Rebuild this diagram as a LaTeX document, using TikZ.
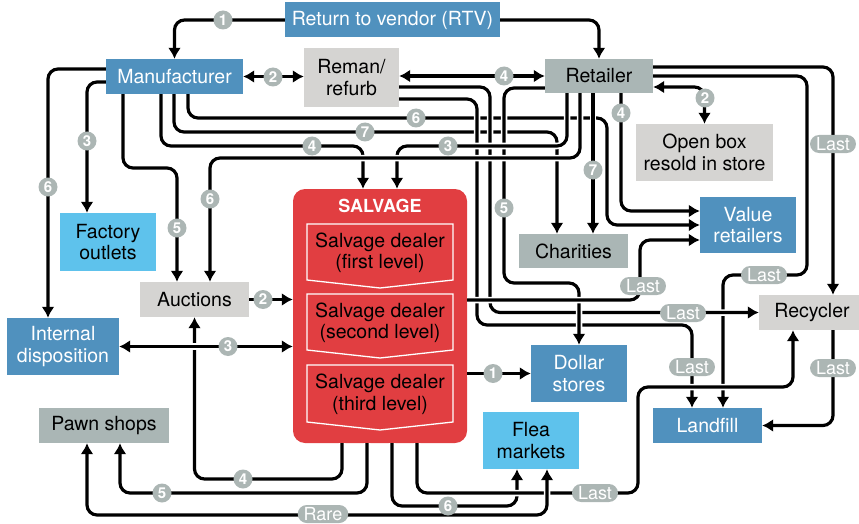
\documentclass[tikz,border=0pt]{standalone}
\usepackage{fontspec}
\setmainfont{TeX Gyre Heros}
\usetikzlibrary{arrows.meta}
\definecolor{boxblue}{RGB}{80,145,190}
\definecolor{boxsky}{RGB}{94,194,236}
\definecolor{boxsage}{RGB}{170,182,181}
\definecolor{boxgrey}{RGB}{213,212,210}
\definecolor{salvred}{RGB}{225,62,65}
\definecolor{tagfill}{RGB}{172,182,180}

\begin{document}
\begin{tikzpicture}[x=1pt,y=-1pt,
  every node/.style={font=\fontsize{19.5}{21.5}\selectfont},
  bluebox/.style={fill=boxblue,text=white,align=center},
  skybox/.style={fill=boxsky,align=center},
  sagebox/.style={fill=boxsage,align=center},
  greybox/.style={fill=boxgrey,align=center},
  flow/.style={line width=3.2pt,rounded corners=10pt,>={Latex[length=11pt,width=13pt]},preaction={draw,white,line width=6.5pt,-}},
  tag/.style={circle,fill=tagfill,text=white,inner sep=0pt,minimum size=19pt,font=\bfseries\fontsize{15}{15}\selectfont},
  pill/.style={rounded corners=9pt,fill=tagfill,text=white,inner xsep=6pt,inner ysep=0pt,minimum height=18pt,font=\fontsize{18}{18}\selectfont}]
      \useasboundingbox (0,0) rectangle (859,524);
      \node[bluebox,minimum width=215pt,minimum height=35pt] (rtv) at (392.5,20) {Return to vendor (RTV)};
      \node[bluebox,minimum width=137pt,minimum height=35pt] (manu) at (174.5,76.5) {Manufacturer};
      \node[greybox,minimum width=95pt,minimum height=59pt] (reman) at (351.5,77.5) {Reman/\\refurb};
      \node[sagebox,minimum width=108pt,minimum height=34pt] (retail) at (599,76) {Retailer};
      \node[greybox,minimum width=137pt,minimum height=57pt] (openbox) at (704.5,152.5) {Open box\\resold in store};
      \node[skybox,minimum width=96pt,minimum height=58pt] (factory) at (108,242) {Factory\\outlets};
      \node[greybox,minimum width=109pt,minimum height=35pt] (auctions) at (194.5,299.5) {Auctions};
      \node[bluebox,minimum width=112pt,minimum height=57pt] (internal) at (63,346.5) {Internal\\disposition};
      \node[sagebox,minimum width=130pt,minimum height=35pt] (pawn) at (104,425.5) {Pawn shops};
      \node[fill=salvred,rounded corners=12pt,minimum width=174pt,minimum height=254pt] (salvage) at (380,316) {};
      \node[sagebox,minimum width=109pt,minimum height=34pt] (charities) at (573.5,251) {Charities};
      \node[bluebox,minimum width=96pt,minimum height=56pt] (value) at (748,225) {Value\\retailers};
      \node[greybox,minimum width=106pt,minimum height=35pt] (recycler) at (812,312.5) {Recycler};
      \node[bluebox,minimum width=96pt,minimum height=57pt] (dollar) at (579,373.5) {Dollar\\stores};
      \node[skybox,minimum width=96pt,minimum height=57pt] (flea) at (531,440.5) {Flea\\markets};
      \node[bluebox,minimum width=109pt,minimum height=35pt] (landfill) at (707.5,425.5) {Landfill};
      \node[text=white,font=\bfseries\fontsize{18}{20}\selectfont] (salvtitle) at (380,206) {SALVAGE};
      \foreach \ya/\yb/\name/\lvl in {224/280/dealerA/first,294/350/dealerB/second,365/422/dealerC/third} {
        \draw[white,line width=1.3pt,fill=salvred] (307,\ya) -- (453,\ya) -- (453,\yb) -- (380,\yb+8) -- (307,\yb) -- cycle;
        \node[align=center] (\name) at (380,{(\ya+\yb)/2+1}) {Salvage dealer\\(\lvl\ level)};
      }
      \draw[flow,->] (rtv.west) -| (manu.north);
      \draw[flow,->] (rtv.east) -| (retail.north);
      \draw[flow,<->] (manu.east) -- (manu.east -| reman.west);
      \draw[flow,<->] (reman.east |- retail.west) -- (retail.west);
      \draw[flow,<->] ([yshift=-11pt]retail.east) -| (openbox.north);
      \draw[flow,->] ([xshift=22pt]retail.south) |- ([yshift=14pt]value.west);
      \draw[flow,->] ([yshift=9pt]retail.east) -| ([xshift=21pt]recycler.north);
      \draw[flow,->] (retail.east) -| (807,275) -| ([xshift=15.5pt]landfill.north);
      \draw[flow,->] ([yshift=7.5pt]manu.west) -| ([xshift=-15pt]internal.north);
      \draw[flow,->] ([yshift=-5.5pt]manu.west) -| ([xshift=-21pt]factory.north);
      \draw[flow,->] ([xshift=-51.5pt]manu.south) |- (177,168) -- ([xshift=-17.5pt]auctions.north);
      \draw[flow,->] ([xshift=13.5pt]manu.south) |- (607,118) |- (value.west);
      \draw[flow,->] ([xshift=-0.5pt]manu.south) |- (557,132) -- ([xshift=-16.5pt]charities.north);
      \draw[flow,->] ([xshift=-13.5pt]manu.south) |- (363,146) -- ([xshift=-17pt]salvage.north);
      \draw[flow,->] ([yshift=-9.5pt]reman.east) -| (490,312.5) -- (recycler.west);
      \draw[flow,->] ([yshift=-21.5pt]reman.east) -| (477,325) -| ([xshift=-15.5pt]landfill.north);
      \draw[flow,->] ([yshift=-12pt]retail.west) -| (504,283) -| (dollar.north);
      \draw[flow,->] ([xshift=-32pt]retail.south) |- (397,146) -- ([xshift=17pt]salvage.north);
      \draw[flow,->] ([xshift=-19pt]retail.south) |- (210,158) -- ([xshift=15.5pt]auctions.north);
      \draw[flow,->] ([xshift=-6pt]retail.south) -- ([xshift=19.5pt]charities.north);
      \draw[flow,->] (auctions.east) -- (auctions.east -| salvage.west);
      \draw[flow,->] ([xshift=-38pt]salvage.south) |- (194.5,479) -- (auctions.south);
      \draw[flow,<->] (internal.east) -- (internal.east -| salvage.west);
      \draw[flow,->] ([xshift=-13pt]salvage.south) |- (120,493) -- ([xshift=16pt]pawn.south);
      \draw[flow,->] ([xshift=12pt]salvage.south) |- (517,506) -- ([xshift=-14pt]flea.south);
      \draw[flow,->] ([xshift=37pt]salvage.south) |- (638,493) |- (793,387) -- ([xshift=-19pt]recycler.south);
      \draw[flow,<->] ([xshift=-17pt]pawn.south) |- (547,515) -- ([xshift=16pt]flea.south);
      \draw[flow,->] (salvage.east |- dollar.west) -- (dollar.west);
      \draw[flow,->] ([yshift=16pt]salvage.east) -| (640,240) -- ([yshift=-15pt]value.west);
      \draw[flow,->] ([xshift=21pt]recycler.south) |- (landfill.east);
      \node[tag] (tRtvManu) at (223,20) {1};
      \node[tag] (tManuReman) at (273,77) {2};
      \node[tag] (tRemanRetail) at (504,76) {4};
      \node[tag] (tRetailOpen) at (705,98) {2};
      \node[tag] (tRetailValue) at (621,113) {4};
      \node[pill] (tRetailRecycler) at (833,144) {Last};
      \node[pill] (tRetailLandfill) at (764,275) {Last};
      \node[tag] (tRetailSalvage) at (448,146) {3};
      \node[tag] (tRetailAuctions) at (210,199) {6};
      \node[tag] (tRetailCharities) at (593,170) {7};
      \node[tag] (tRetailDollar) at (504,208) {5};
      \node[tag] (tManuInternal) at (48,187) {6};
      \node[tag] (tManuFactory) at (87,141) {3};
      \node[tag] (tManuAuctions) at (177,228) {5};
      \node[tag] (tManuSalvage) at (312,146) {4};
      \node[tag] (tManuCharities) at (365,132) {7};
      \node[tag] (tManuValue) at (416,118) {6};
      \node[pill] (tRemanRecycler) at (683,313) {Last};
      \node[pill] (tRemanLandfill) at (692,367) {Last};
      \node[tag] (tAuctionsSalvage) at (263,299.5) {2};
      \node[tag] (tInternalSalvage) at (228,346.5) {3};
      \node[tag] (tSalvageAuctions) at (243,479) {4};
      \node[tag] (tSalvagePawn) at (162,493) {5};
      \node[tag] (tSalvageFlea) at (448,506) {6};
      \node[pill] (tSalvageRecycler) at (595,493) {Last};
      \node[pill] (tPawnFlea) at (323,514) {Rare};
      \node[tag] (tSalvageDollar) at (493,373.5) {1};
      \node[pill] (tSalvageValue) at (643,286) {Last};
      \node[pill] (tRecyclerLandfill) at (833,368) {Last};
    \end{tikzpicture}
\end{document}
